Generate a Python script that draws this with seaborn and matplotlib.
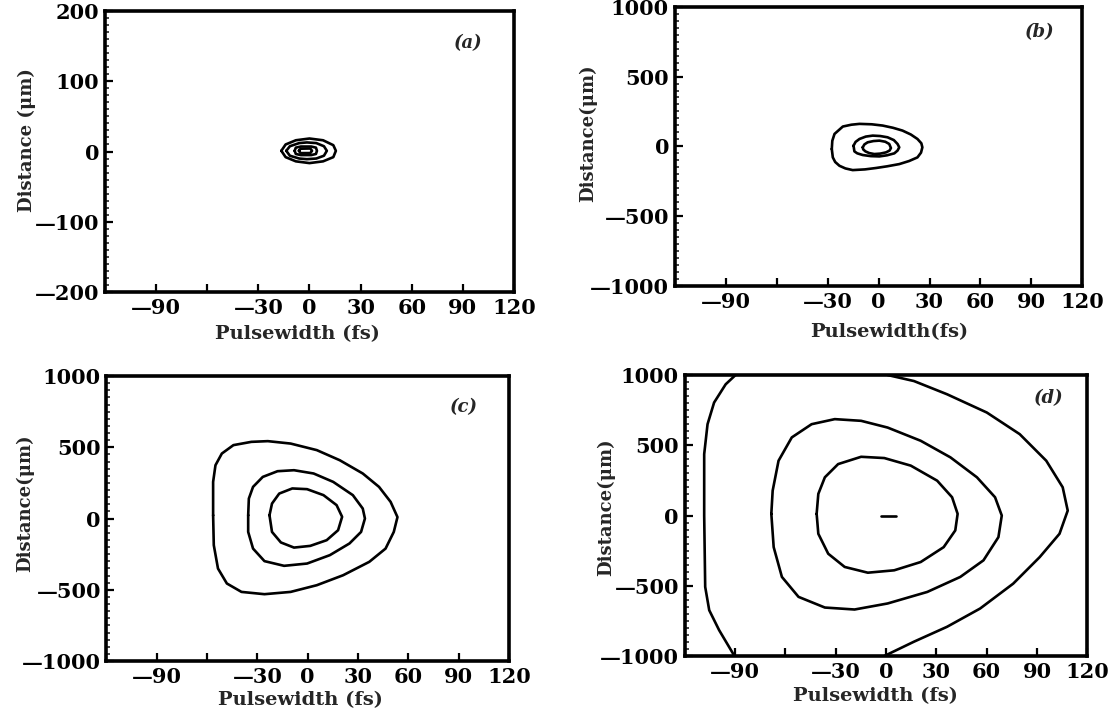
import numpy as np
import pandas as pd
import matplotlib
matplotlib.use('Agg')
import matplotlib.pyplot as plt
import seaborn as sns
from matplotlib.ticker import MultipleLocator

sns.set_theme(style='ticks')
plt.rcParams['font.family'] = ['DejaVu Serif']
plt.rcParams['font.weight'] = 'bold'

# x 刻度 (fs)
x_ticks = [-120, -90, -60, -30, 0, 30, 60, 90, 120]
x_labels = ['', '—90', '', '—30', '0', '30', '60', '90', '120']

# y 刻度
y_ticks_a = [-200, -100, 0, 100, 200]
y_labels_a = ['—200', '—100', '0', '100', '200']
y_ticks_big = [-1000, -500, 0, 500, 1000]
y_labels_big = ['—1000', '—500', '0', '500', '1000']

# 轴标题 (各子图原图写法略有不同)
x_titles = ['Pulsewidth (fs)', 'Pulsewidth(fs)', 'Pulsewidth (fs)', 'Pulsewidth (fs)']
y_titles = ['Distance (μm)', 'Distance(μm)', 'Distance(μm)', 'Distance(μm)']

# (a) 等值线，读图估计 (fs, μm)
a1_x = [-16.5, -14, -8, 0, 8, 14, 15.5, 14, 8, 0, -8, -14]
a1_y = [1, 10, 16, 18.5, 16, 9, 1, -8, -14, -16.5, -14, -8]
a2_x = [-13.6, -11.5, -6, -1.5, 4, 8.5, 10.2, 8.5, 4, -1.5, -6, -11.5]
a2_y = [1, 7.5, 12, 12.9, 12, 7.5, 1, -6, -10, -10.9, -10, -6]
a3_x = [-8.7, -8, -5, 1, 3.8, 4.4, 3.8, 1, -5, -8]
a3_y = [1, 5.5, 7.1, 7.1, 5.5, 1, -3.5, -5.1, -5.1, -3.5]
a4_x = [-6.2, -5.2, 0.5, 1.5, 0.5, -5.2]
a4_y = [1, 4, 4.3, 1, -2.2, -2.3]

# (b)
b1_x = [-27.5, -27.2, -25.9, -21, -16, -11.2, -4, 2.4, 8.5, 14.1, 19, 22.9, 25.2, 25.8,
        25, 22.9, 18, 12.2, 5, -1.5, -8, -15.2, -19.5, -23, -25.5, -26.9]
b1_y = [-19, 40, 89, 142, 155, 161, 158, 149, 133, 113, 85, 53, 22, -7,
        -45, -79, -105, -127, -143, -155, -165, -170, -158, -139, -112, -79]
b2_x = [-14.7, -13.5, -11.2, -7.5, -3.4, 1, 5.3, 9, 11.2, 12.2, 11.2, 9.3, 5, 0.5, -4.5, -9.3, -12.5, -14.2]
b2_y = [5, 32, 53, 70, 77, 74, 65, 45, 17, -7, -30, -50, -64, -72, -70, -62, -50, -36]
b3_x = [-9.3, -8.3, -6.4, -3, 0.5, 4, 6.3, 7.3, 6.5, 4.4, 1, -2.5, -5.5, -7.7, -9]
b3_y = [-7, 14, 29, 38, 41, 33, 17, -12, -30, -43, -52, -55, -48, -36, -22]

# (c)
c1_x = [-56.4, -56.4, -55, -51.2, -44.3, -33.6, -23.8, -10.2, 5.4, 19.1, 32.8, 42.5,
        49.4, 53.5, 51.3, 46.4, 36.7, 21.1, 5.4, -10.2, -25.8, -39.5, -48.2, -53.5, -56]
c1_y = [23, 257, 374, 456, 515, 538, 543, 526, 480, 409, 316, 222,
        117, 10, -94, -211, -304, -398, -468, -515, -531, -515, -456, -351, -187]
c2_x = [-35.5, -35.1, -32.6, -26.8, -18, -8.2, 3.5, 15.2, 26.9, 32.8, 34.1,
        31.8, 24.9, 13.2, -0.4, -14.1, -25.8, -32.6, -35.5]
c2_y = [23, 140, 222, 292, 332, 339, 316, 257, 164, 70, 0,
        -94, -175, -257, -316, -332, -299, -211, -94]
c3_x = [-22.8, -21.3, -17, -9.2, -0.4, 9.4, 17.2, 20.5, 18.1, 11.3, 1.5, -8.2, -16, -21.3]
c3_y = [23, 105, 175, 211, 206, 164, 94, 12, -82, -152, -192, -204, -168, -94]

# (d) 最外层被上下边界截断，分左右两段
d1l_x = [-89.6, -95.5, -102.4, -106.3, -108.3, -108.3, -107.7, -105.3, -99.4, -90.6]
d1l_y = [1000, 934, 804, 650, 437, 0, -508, -674, -816, -993]
d1r_x = [-1, 16.7, 36.4, 56.1, 75.8, 91.6, 103.4, 108.3, 105.3, 95.5, 79.7, 60.1, 36.4, 16.7, 1]
d1r_y = [-1000, -898, -792, -662, -485, -296, -130, 35, 201, 390, 579, 733, 863, 957, 1000]
d2_x = [-68.3, -67.5, -64, -56.1, -44.3, -30.5, -14.8, 1, 20.7, 38.4, 54.2, 65, 69,
        67, 58.1, 44.3, 24.6, 1, -18.7, -36.4, -52.1, -62, -66.9]
d2_y = [12, 177, 390, 556, 650, 686, 674, 626, 532, 414, 272, 130, 0,
        -154, -319, -437, -544, -626, -669, -655, -579, -437, -225]
d3_x = [-41.3, -40.3, -36.4, -28.5, -14.8, -1, 14.8, 30.5, 39.4, 42.7, 41.3, 34.4,
        20.7, 4.9, -10.8, -24.6, -34.4, -40.3]
d3_y = [12, 154, 272, 366, 418, 409, 355, 248, 130, 12, -106, -225,
        -331, -390, -407, -366, -272, -130]
d4_x = [-3, 5.9]
d4_y = [0, 0]


def closed(xs, ys):
    return pd.DataFrame({'x': list(xs) + [xs[0]], 'y': list(ys) + [ys[0]]})


def opened(xs, ys):
    return pd.DataFrame({'x': xs, 'y': ys})


panels = [
    # 字母, 轴位置, 等值线, y范围, y刻度, y标签, y小刻度, 字母位置, ylabel坐标, xlabel坐标
    ('a', [0.0939, 0.5916, 0.3658, 0.393],
     [closed(a1_x, a1_y), closed(a2_x, a2_y), closed(a3_x, a3_y), closed(a4_x, a4_y)],
     (-200, 200), y_ticks_a, y_labels_a, 10, (0.888, 0.886), (-0.169, 0.54), (0.47, -0.117)),
    ('b', [0.6034, 0.600, 0.3648, 0.3906],
     [closed(b1_x, b1_y), closed(b2_x, b2_y), closed(b3_x, b3_y)],
     (-1000, 1000), y_ticks_big, y_labels_big, 50, (0.896, 0.909), (-0.19, 0.546), (0.526, -0.132)),
    ('c', [0.0952, 0.0755, 0.3601, 0.3986],
     [closed(c1_x, c1_y), closed(c2_x, c2_y), closed(c3_x, c3_y)],
     (-1000, 1000), y_ticks_big, y_labels_big, 50, (0.888, 0.892), (-0.18, 0.553), (0.481, -0.104)),
    ('d', [0.6123, 0.0825, 0.3603, 0.393],
     [opened(d1l_x, d1l_y), opened(d1r_x, d1r_y), closed(d2_x, d2_y), closed(d3_x, d3_y),
      opened(d4_x, d4_y)],
     (-1000, 1000), y_ticks_big, y_labels_big, 50, (0.905, 0.918), (-0.173, 0.531), (0.473, -0.112)),
]

fig = plt.figure(figsize=(11.18, 7.15), dpi=100)

for i, (letter, pos, curves, ylim, yt, yl, ymin, lpos, ylc, xlc) in enumerate(panels):
    ax = fig.add_axes(pos)
    for df in curves:
        sns.lineplot(data=df, x='x', y='y', sort=False, estimator=None,
                     color='black', linewidth=1.9, ax=ax)
    for line in ax.lines:
        line.set_solid_joinstyle('round')
        line.set_solid_capstyle('round')
    ax.set_xlim(-120, 120)
    ax.set_ylim(*ylim)
    ax.set_xticks(x_ticks)
    ax.set_xticklabels(x_labels)
    ax.set_yticks(yt)
    ax.set_yticklabels(yl)
    ax.yaxis.set_minor_locator(MultipleLocator(ymin))
    ax.tick_params(which='major', direction='in', length=6, width=1.6,
                   labelsize=15, pad=4, colors='black')
    ax.tick_params(which='minor', axis='y', direction='in', length=3, width=1.2)
    for s in ax.spines.values():
        s.set_linewidth(2.6)
        s.set_color('black')
    ax.set_xlabel(x_titles[i], fontsize=14, fontweight='bold')
    ax.set_ylabel(y_titles[i], fontsize=13, fontweight='bold')
    ax.xaxis.set_label_coords(*xlc)
    ax.yaxis.set_label_coords(*ylc)
    ax.text(lpos[0], lpos[1], f'({letter})', transform=ax.transAxes,
            fontsize=13, fontweight='bold', fontstyle='italic',
            ha='center', va='center')
    ax.grid(False)

fig.savefig('out.png', dpi=100)
